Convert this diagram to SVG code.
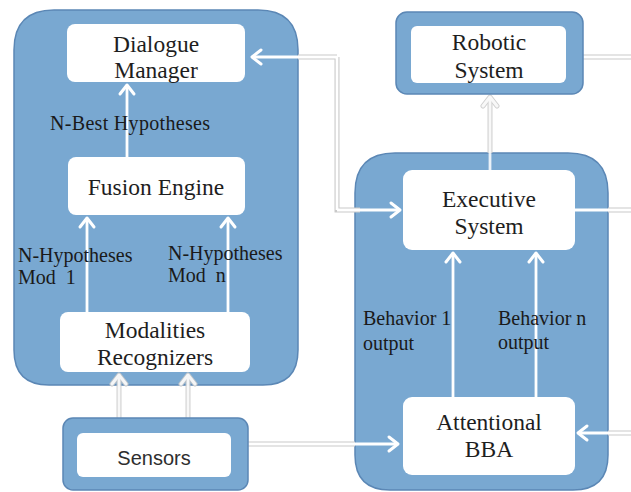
<svg xmlns="http://www.w3.org/2000/svg" width="631" height="492" viewBox="0 0 631 492">
  <style>
    .panel { fill: #79A8D1; stroke: #5B87B5; stroke-width: 1.5; }
    .box { fill: #FFFFFF; }
    .node { font-family: "Liberation Serif", "Times New Roman", serif; font-size: 23.5px; fill: #1e1e1e; text-anchor: middle; }
    .sans { font-family: "Liberation Sans", Arial, sans-serif; font-size: 20px; fill: #2e2e2e; text-anchor: middle; }
    .lbl { font-family: "Liberation Serif", "Times New Roman", serif; font-size: 20px; fill: #1a1a1a; white-space: pre; }
    .under { fill: none; stroke: #C9C9C9; stroke-width: 5; }
    .under-head { fill: none; stroke: #C9C9C9; stroke-width: 5; marker-end: url(#head-edge); }
    .wire { fill: none; stroke: #FFFFFF; stroke-width: 2.8; marker-end: url(#head); }
    .wire-plain { fill: none; stroke: #FFFFFF; stroke-width: 2.8; }
    .pale { opacity: 0.85; }
  </style>
  <defs>
    <marker id="head" viewBox="-14 -12 18 24" markerWidth="18" markerHeight="24" refX="0" refY="0" orient="auto" markerUnits="userSpaceOnUse">
      <path d="M -9 -7 L 0 0 L -9 7" fill="none" stroke="#FFFFFF" stroke-width="3" stroke-linecap="round" stroke-linejoin="round"/>
    </marker>
    <marker id="head-edge" viewBox="-14 -12 18 24" markerWidth="18" markerHeight="24" refX="0" refY="0" orient="auto" markerUnits="userSpaceOnUse">
      <path d="M -9 -7 L 0 0 L -9 7" fill="none" stroke="#C9C9C9" stroke-width="5" stroke-linecap="round" stroke-linejoin="round"/>
    </marker>
  </defs>

  <rect width="631" height="492" fill="#FFFFFF"/>

  <!-- container panels -->
  <g id="speech-panel">
    <path class="panel" d="M 54 10 L 258 10 Q 298 10 298 50 L 298 350 Q 298 385 263 385 L 49 385 Q 14 385 14 350 L 14 50 Q 14 10 54 10 Z"/>
  </g>
  <g id="control-panel">
    <path class="panel" d="M 395 153 L 568 153 Q 608 153 608 193 L 608 455 Q 608 490 573 490 L 390 490 Q 355 490 355 455 L 355 193 Q 355 153 395 153 Z"/>
  </g>

  <!-- connectors -->
  <g id="connectors">
    <!-- Dialogue Manager <-> Executive System -->
    <path class="under" d="M 337 57 L 337 210 L 360 210"/>
    <path class="under" d="M 298 57 L 337 57"/>
    <path class="wire-plain" d="M 337 57 L 337 210"/>
    <path class="wire" d="M 337 57 L 252 57"/>
    <path class="wire" d="M 337 210 L 400 210"/>
    <!-- Robotic System off to the right -->
    <path class="under" d="M 583 57 L 631 57"/>
    <path class="wire-plain" d="M 583 57 L 631 57"/>
    <!-- Executive System off to the right -->
    <path class="under" d="M 608 210 L 631 210"/>
    <path class="wire-plain" d="M 575 210 L 631 210"/>
    <!-- into Attentional BBA from the right -->
    <path class="under" d="M 608 433 L 631 433"/>
    <path class="wire" d="M 631 433 L 578 433"/>
    <!-- Sensors to Attentional BBA -->
    <path class="under" d="M 248 444 L 355 444"/>
    <path class="wire" d="M 248 444 L 398 444"/>
    <!-- Executive System to Robotic System -->
    <path class="under-head pale" d="M 490 153 L 490 97"/>
    <path class="wire pale" d="M 490 170 L 490 97"/>
    <!-- Sensors to Modalities Recognizers -->
    <path class="under-head pale" d="M 119 418 L 119 375"/>
    <path class="wire pale" d="M 119 418 L 119 375"/>
    <path class="under-head pale" d="M 188 418 L 188 375"/>
    <path class="wire pale" d="M 188 418 L 188 375"/>
    <!-- Fusion Engine to Dialogue Manager -->
    <path class="wire" d="M 127 157 L 127 85"/>
    <!-- Modalities Recognizers to Fusion Engine -->
    <path class="wire" d="M 87 312 L 87 218"/>
    <path class="wire" d="M 228 312 L 228 218"/>
    <!-- Attentional BBA to Executive System -->
    <path class="wire" d="M 453 397 L 453 253"/>
    <path class="wire" d="M 536 397 L 536 253"/>
  </g>

  <!-- nodes -->
  <g id="dialogue-manager">
    <rect class="box" x="67" y="24" width="178" height="58" rx="8"/>
    <text class="node" x="156" y="52">Dialogue</text>
    <text class="node" x="156" y="78">Manager</text>
  </g>
  <g id="fusion-engine">
    <rect class="box" x="68" y="157" width="177" height="58" rx="8"/>
    <text class="node" x="156" y="195">Fusion Engine</text>
  </g>
  <g id="modalities-recognizers">
    <rect class="box" x="60" y="312" width="190" height="60" rx="8"/>
    <text class="node" x="155" y="338">Modalities</text>
    <text class="node" x="155" y="365">Recognizers</text>
  </g>
  <g id="sensors">
    <rect class="panel" x="63" y="418" width="185" height="72" rx="10"/>
    <rect class="box" x="77" y="433" width="154" height="44" rx="6"/>
    <text class="sans" x="154" y="465">Sensors</text>
  </g>
  <g id="robotic-system">
    <rect class="panel" x="396" y="12" width="187" height="82" rx="11"/>
    <rect class="box" x="411" y="26" width="155" height="57" rx="6"/>
    <text class="node" x="489" y="50">Robotic</text>
    <text class="node" x="489" y="78">System</text>
  </g>
  <g id="executive-system">
    <rect class="box" x="403" y="170" width="172" height="80" rx="9"/>
    <text class="node" x="489" y="207">Executive</text>
    <text class="node" x="489" y="234">System</text>
  </g>
  <g id="attentional-bba">
    <rect class="box" x="403" y="397" width="172" height="78" rx="9"/>
    <text class="node" x="489" y="430">Attentional</text>
    <text class="node" x="489" y="457">BBA</text>
  </g>

  <!-- connector labels -->
  <g id="labels">
    <text class="lbl" x="50" y="130" textLength="160">N-Best Hypotheses</text>
    <text class="lbl" x="18" y="262">N-Hypotheses</text>
    <text class="lbl" x="18" y="284">Mod  1</text>
    <text class="lbl" x="168" y="260">N-Hypotheses</text>
    <text class="lbl" x="168" y="282">Mod  n</text>
    <text class="lbl" x="363" y="325">Behavior 1</text>
    <text class="lbl" x="363" y="350">output</text>
    <text class="lbl" x="498" y="325">Behavior n</text>
    <text class="lbl" x="498" y="349">output</text>
  </g>
</svg>
